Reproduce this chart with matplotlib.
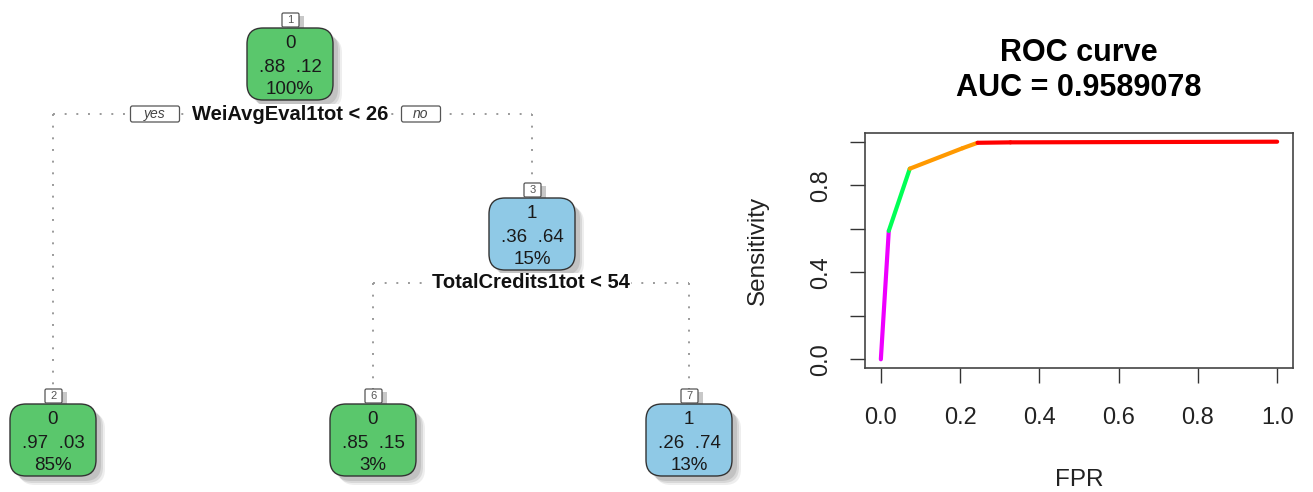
import numpy as np
import matplotlib
matplotlib.use("Agg")
import matplotlib.pyplot as plt
from matplotlib.patches import FancyBboxPatch

plt.rcParams['font.family'] = ['Liberation Sans', 'DejaVu Sans']

# rpart tree: node number, predicted class, class probabilities, share of obs
node_ids = [1, 2, 3, 6, 7]
node_class = ['0', '0', '1', '0', '1']
node_p0 = ['.88', '.97', '.36', '.85', '.26']
node_p1 = ['.12', '.03', '.64', '.15', '.74']
node_pct = ['100%', '85%', '15%', '3%', '13%']
split_labels = ['WeiAvgEval1tot < 26', 'TotalCredits1tot < 54']

# ROC curve points
fpr = [0.0, 0.02, 0.073, 0.206, 0.244, 0.327, 1.0]
tpr = [0.0, 0.59, 0.876, 0.97, 0.995, 0.997, 1.0]
auc = 0.9589078
seg_colors = ['#ee00ff', '#00ff55', '#ff9900', '#ff9900', '#ff0000', '#ff0000']

fig = plt.figure(figsize=(13.13, 4.92), dpi=100)

# ---- tree panel, drawn in pixel units ----
tr = fig.add_axes([0, 0, 1, 1])
tr.set_xlim(0, 1313)
tr.set_ylim(492, 0)
tr.axis('off')

node_x = {1: 290, 2: 53, 3: 532, 6: 373, 7: 689}
node_y = {1: 64, 2: 440, 3: 234, 6: 440, 7: 440}
fills = {'0': '#5ac76c', '1': '#8fc9e6'}
W, H = 86, 72
dot = dict(color='#9a9a9a', lw=1.4, ls=(0, (1, 5)), zorder=1)


def draw_node(i):
    n = node_ids[i]
    x, y = node_x[n], node_y[n]
    # soft shadow
    for k, a in [(9, 0.14), (7, 0.22), (5, 0.28)]:
        tr.add_patch(FancyBboxPatch((x - W / 2 + k, y - H / 2 + k), W, H,
                                    boxstyle='round,pad=0,rounding_size=16',
                                    fc='#8a8a8a', ec='none', alpha=a, zorder=2))
    tr.add_patch(FancyBboxPatch((x - W / 2, y - H / 2), W, H,
                                boxstyle='round,pad=0,rounding_size=16',
                                fc=fills[node_class[i]], ec='#333333', lw=1.0, zorder=3))
    tr.text(x, y - 20, node_class[i], ha='center', va='center', fontsize=13.5, color='#1a1a1a', zorder=4)
    tr.text(x, y + 3, node_p0[i] + '  ' + node_p1[i], ha='center', va='center', fontsize=13.5, color='#1a1a1a', zorder=4)
    tr.text(x, y + 25, node_pct[i], ha='center', va='center', fontsize=13.5, color='#1a1a1a', zorder=4)
    # node number tag
    ty = y - H / 2 - 8
    tr.add_patch(FancyBboxPatch((x - 8 + 5, ty - 7 + 3), 17, 14, boxstyle='square,pad=0',
                                fc='#c8c8c8', ec='none', zorder=2))
    tr.add_patch(FancyBboxPatch((x - 8, ty - 7), 17, 14, boxstyle='round,pad=0,rounding_size=1.5',
                                fc='white', ec='#555555', lw=0.9, zorder=3))
    tr.text(x + 0.5, ty, str(n), ha='center', va='center', fontsize=8, color='#555555', zorder=4)


# first split
sy = 114
tr.plot([node_x[2], node_x[3]], [sy, sy], **dot)
tr.plot([node_x[2], node_x[2]], [sy, node_y[2] - H / 2 - 15], **dot)
tr.plot([node_x[3], node_x[3]], [sy, node_y[3] - H / 2 - 15], **dot)
tr.text(node_x[1], sy, split_labels[0], ha='center', va='center', fontsize=14.5,
        fontweight='bold', color='#111111', zorder=5,
        bbox=dict(fc='white', ec='none', pad=0.5))
for lab, cx, bw in [('yes', 155, 49), ('no', 421, 39)]:
    tr.add_patch(FancyBboxPatch((cx - bw / 2, sy - 8), bw, 16, boxstyle='round,pad=0,rounding_size=2',
                                fc='white', ec='#555555', lw=0.9, zorder=5))
    tr.text(cx, sy, lab, ha='center', va='center', fontsize=10, style='italic',
            color='#444444', zorder=6)

# second split
sy2 = 283
tr.plot([node_x[6], node_x[7]], [sy2, sy2], **dot)
tr.plot([node_x[6], node_x[6]], [sy2, node_y[6] - H / 2 - 15], **dot)
tr.plot([node_x[7], node_x[7]], [sy2, node_y[7] - H / 2 - 15], **dot)
tr.text(531, sy2, split_labels[1], ha='center', va='center', fontsize=14.5,
        fontweight='bold', color='#111111', zorder=5,
        bbox=dict(fc='white', ec='none', pad=0.5))

for i in range(len(node_ids)):
    draw_node(i)

# ---- ROC panel ----
ax = fig.add_axes([865 / 1313, 124 / 492, 428 / 1313, 235 / 492])
for i in range(len(fpr) - 1):
    ax.plot(fpr[i:i + 2], tpr[i:i + 2], color=seg_colors[i], lw=3, solid_capstyle='round')
ax.set_xlim(-0.04, 1.04)
ax.set_ylim(-0.04, 1.04)
ticks = np.arange(0, 1.01, 0.2)
ax.set_xticks(ticks)
ax.set_xticklabels(['%.1f' % t for t in ticks])
ax.set_yticks(ticks)
ax.set_yticklabels(['0.0', '', '0.4', '', '0.8', ''], rotation=90, va='center')
ax.tick_params(direction='out', length=11, width=1, labelsize=17, color='#333333',
               labelcolor='#222222')
ax.tick_params(axis='x', pad=17)
ax.tick_params(axis='y', pad=13)
for s in ax.spines.values():
    s.set_color('#444444')
    s.set_linewidth(1.2)
ax.set_xlabel('FPR', fontsize=17.5, labelpad=29, color='#222222')
ax.set_ylabel('Sensitivity', fontsize=17.5, labelpad=29, color='#222222')
ax.set_title('ROC curve\nAUC = %s' % auc, fontsize=22, fontweight='bold', pad=27, linespacing=1.2)

fig.savefig('out.png', dpi=100)
